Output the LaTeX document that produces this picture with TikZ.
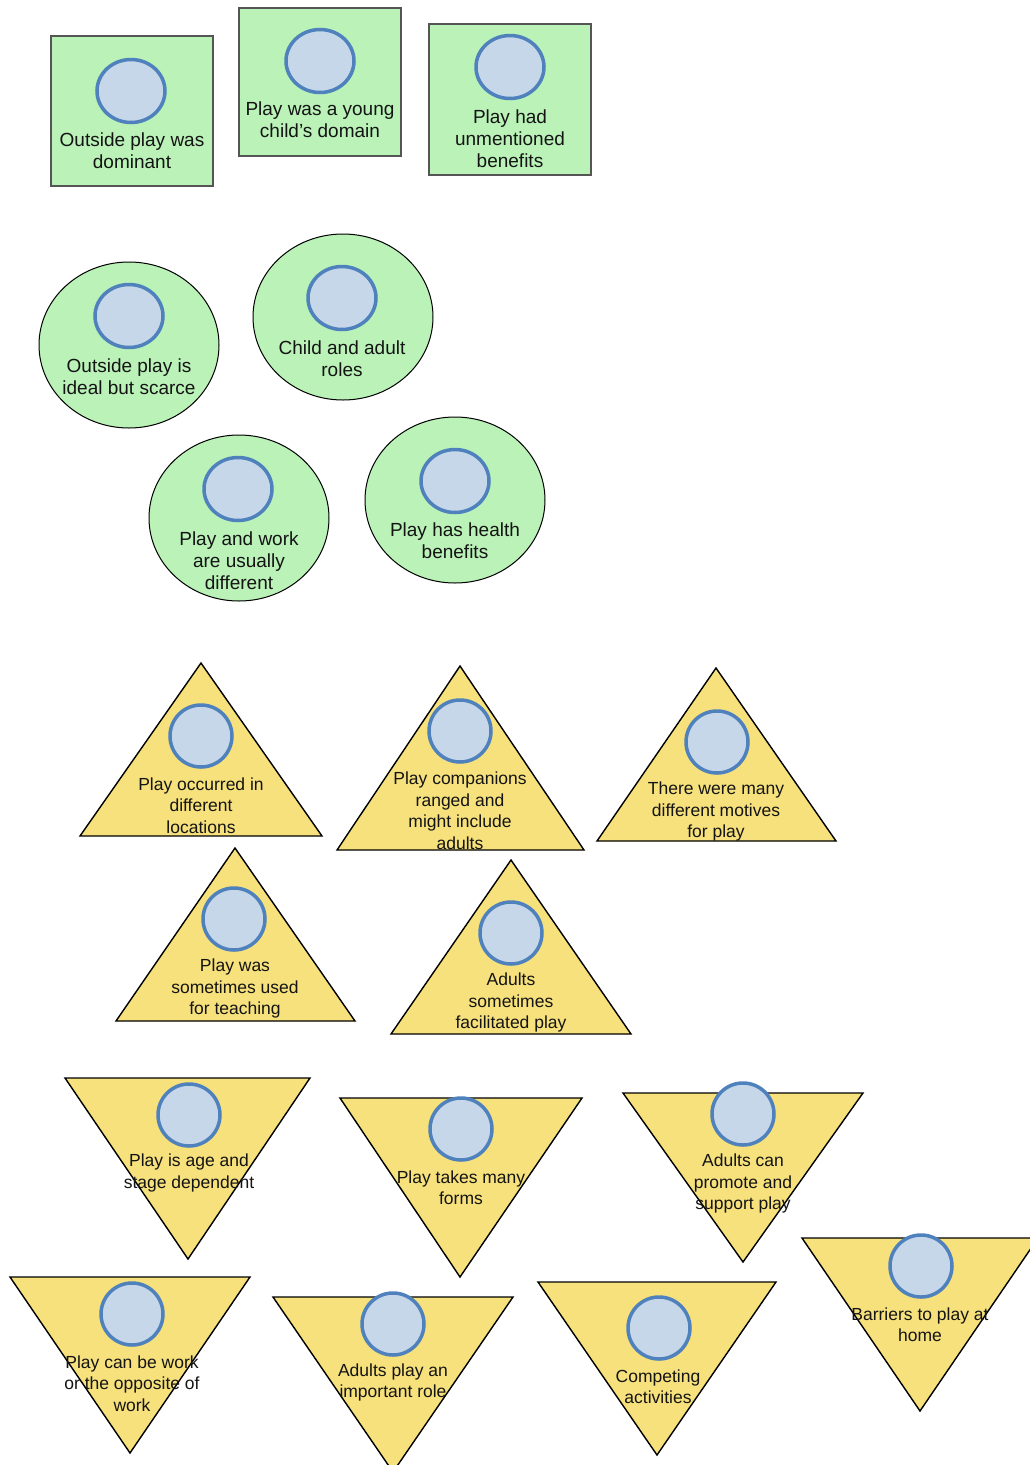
\documentclass[tikz,border=0pt]{standalone}
\usepackage{fontspec}
\setmainfont{Liberation Sans}
\usetikzlibrary{shapes.geometric}
\definecolor{leaf}{HTML}{BAF2B8}
\definecolor{sand}{HTML}{F6E17C}
\definecolor{dotfill}{HTML}{C6D7E9}
\definecolor{dotline}{HTML}{4F81BD}
\definecolor{boxline}{HTML}{555555}
\definecolor{ink}{HTML}{141414}
\tikzset{
  card/.style={rectangle, draw=boxline, line width=1.8pt, fill=leaf, inner sep=0pt},
  blob/.style={ellipse, draw=black, line width=1pt, fill=leaf, inner sep=0pt,
               minimum width=180pt, minimum height=166pt},
  tri/.style={draw=black, line width=1.4pt, fill=sand, line join=miter},
  dot/.style={ellipse, draw=dotline, line width=3.5pt, fill=dotfill, inner sep=0pt,
              minimum width=62pt, minimum height=62pt},
  bigdot/.style={dot, minimum width=68pt, minimum height=63pt},
  greentext/.style={align=center, font=\fontsize{19}{22}\selectfont, text=ink, inner sep=0pt,
                    yshift=-1.5pt},
  tritext/.style={align=center, font=\fontsize{17.5}{21.5}\selectfont, text=ink, inner sep=0pt,
                  yshift=-1.5pt},
}
\begin{document}
\begin{tikzpicture}[x=1pt,y=-1pt]
\fill[white] (0,0) rectangle (1030,1465);
\useasboundingbox (0,0) rectangle (1030,1465);
\clip (0,0) rectangle (1030,1465);

% ---- square cards ----
\node[card, minimum width=162pt, minimum height=150pt] (s1) at (132,111) {};
\node[bigdot] (s1d) at (131,91) {};
\node[greentext] (s1t) at (132,149) {Outside play was\\dominant};

\node[card, minimum width=162pt, minimum height=148pt] (s2) at (320,82) {};
\node[bigdot] (s2d) at (320,61) {};
\node[greentext] (s2t) at (320,118) {Play was a young\\child\char"0027 s domain};

\node[card, minimum width=162pt, minimum height=151pt] (s3) at (510,99.5) {};
\node[bigdot] (s3d) at (510,67) {};
\node[greentext] (s3t) at (510,137) {Play had\\unmentioned\\benefits};

% ---- round blobs ----
\node[blob] (b1) at (129,345) {};
\node[bigdot] (b1d) at (129,316) {};
\node[greentext] (b1t) at (129,375) {Outside play is\\ideal but scarce};

\node[blob] (b2) at (343,317) {};
\node[bigdot] (b2d) at (342,298) {};
\node[greentext] (b2t) at (342,357) {Child and adult\\roles};

\node[blob] (b3) at (239,518) {};
\node[bigdot] (b3d) at (238,489) {};
\node[greentext] (b3t) at (239,559) {Play and work\\are usually\\different};

\node[blob] (b4) at (455,500) {};
\node[bigdot] (b4d) at (455,481) {};
\node[greentext] (b4t) at (455,539) {Play has health\\benefits};

% ---- upward triangles ----
\draw[tri] (201,663) -- (322,836) -- (80,836) -- cycle;
\node[dot] (u1d) at (201,736) {};
\node[tritext] (u1t) at (201,804) {Play occurred in\\different\\locations};

\draw[tri] (460,666) -- (584,850) -- (337,850) -- cycle;
\node[dot] (u2d) at (460,731) {};
\node[tritext] (u2t) at (460,809) {Play companions\\ranged and\\might include\\adults};

\draw[tri] (716,668) -- (836,841) -- (597,841) -- cycle;
\node[dot] (u3d) at (717,742) {};
\node[tritext] (u3t) at (716,810) {There were many\\different motives\\for play};

\draw[tri] (235,848) -- (355,1021) -- (116,1021) -- cycle;
\node[dot] (u4d) at (234,919) {};
\node[tritext] (u4t) at (235,987) {Play was\\sometimes used\\for teaching};

\draw[tri] (511,860) -- (631,1034) -- (391,1034) -- cycle;
\node[dot] (u5d) at (511,933) {};
\node[tritext] (u5t) at (511,1001) {Adults\\sometimes\\facilitated play};

% ---- downward triangles ----
\draw[tri] (65,1078) -- (310,1078) -- (188,1259) -- cycle;
\node[dot] (d1d) at (189,1115) {};
\node[tritext] (d1t) at (189,1171.5) {Play is age and\\stage dependent};

\draw[tri] (340,1098) -- (582,1098) -- (460,1277) -- cycle;
\node[dot] (d2d) at (461,1129) {};
\node[tritext] (d2t) at (461,1186) {Play takes many\\forms};

\draw[tri] (623,1093) -- (863,1093) -- (743,1262) -- cycle;
\node[dot] (d3d) at (743,1114) {};
\node[tritext] (d3t) at (743,1182) {Adults can\\promote and\\support play};

\draw[tri] (802,1238) -- (1038,1238) -- (920,1411) -- cycle;
\node[dot] (d4d) at (921,1266) {};
\node[tritext] (d4t) at (920,1323) {Barriers to play at\\home};

\draw[tri] (10,1277) -- (250,1277) -- (130,1453) -- cycle;
\node[dot] (d5d) at (132,1314) {};
\node[tritext] (d5t) at (132,1382) {Play can be work\\or the opposite of\\work};

\draw[tri] (273,1297) -- (513,1297) -- (393,1472) -- cycle;
\node[dot] (d6d) at (393,1324) {};
\node[tritext] (d6t) at (393,1381) {Adults play an\\important role};

\draw[tri] (538,1282) -- (776,1282) -- (657,1455) -- cycle;
\node[dot] (d7d) at (659,1328) {};
\node[tritext] (d7t) at (658,1385) {Competing\\activities};
\end{tikzpicture}
\end{document}
